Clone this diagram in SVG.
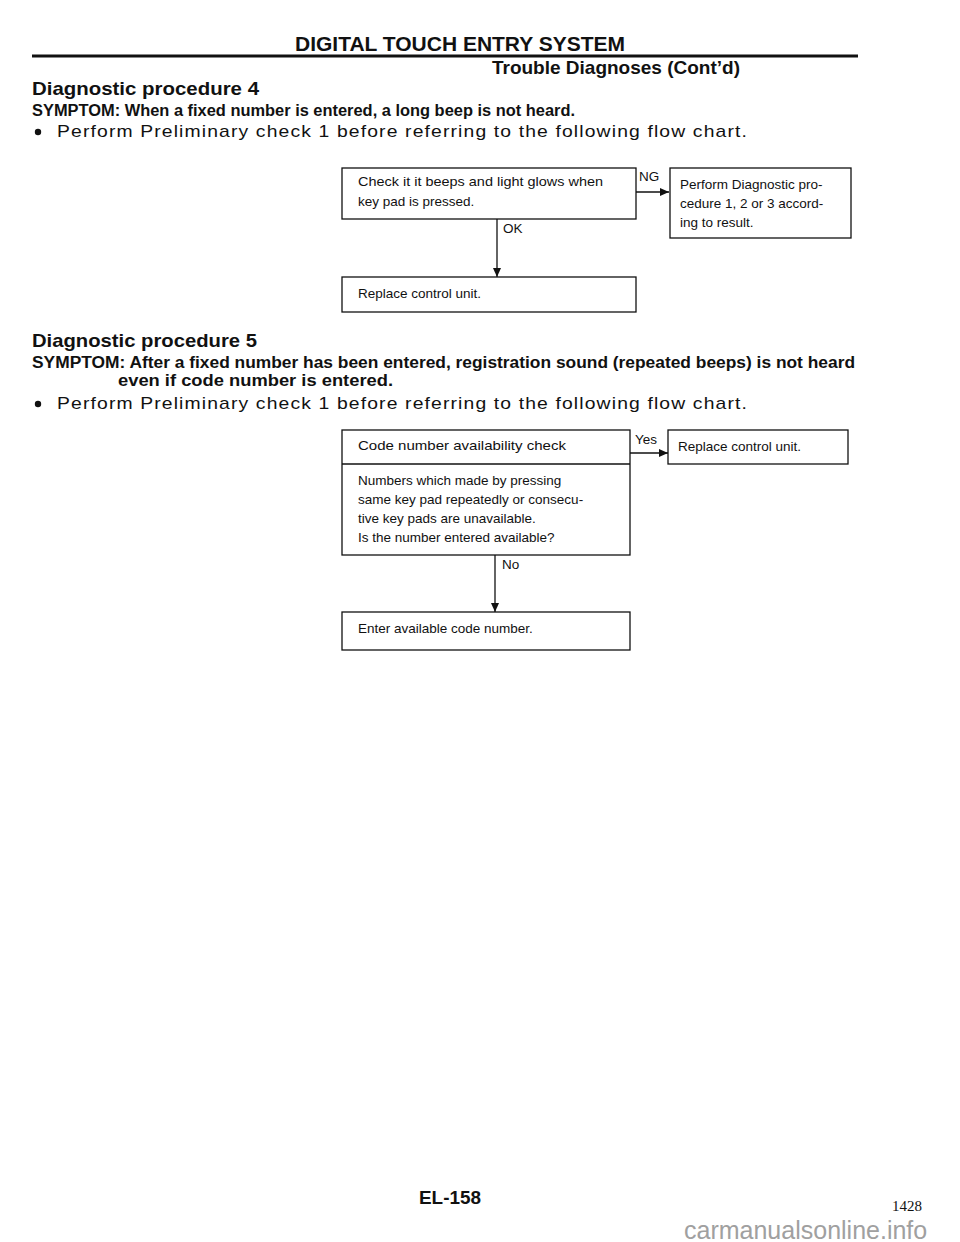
<svg xmlns="http://www.w3.org/2000/svg" width="960" height="1242" viewBox="0 0 960 1242">
<style>
text{font-family:"Liberation Sans",Arial,sans-serif;fill:#111}
.b{font-weight:bold}
.box{fill:#fff;stroke:#111;stroke-width:1.3}
.t{font-size:13.5px}
.lbl{font-size:13.5px}
.con{stroke:#111;stroke-width:1.3;fill:none}
.head{font-size:19px;font-weight:bold}
.sym{font-size:16.8px;font-weight:bold}
.body{font-size:17px;letter-spacing:1px}
</style>
<defs>
<marker id="ah" markerUnits="userSpaceOnUse" markerWidth="10" markerHeight="8" refX="9" refY="4" orient="auto">
<path d="M0,0 L9,4 L0,8 Z" fill="#111"/>
</marker>
</defs>
<rect width="960" height="1242" fill="#fff"/>

<g id="header">
<text x="460" y="51" class="b" font-size="20" text-anchor="middle" textLength="330" lengthAdjust="spacingAndGlyphs">DIGITAL TOUCH ENTRY SYSTEM</text>
<line x1="32" y1="56" x2="858" y2="56" stroke="#111" stroke-width="3"/>
<text x="740" y="74" class="b" font-size="19" text-anchor="end">Trouble Diagnoses (Cont’d)</text>
</g>

<g id="proc4-text">
<text x="32" y="95" class="head" textLength="227" lengthAdjust="spacingAndGlyphs">Diagnostic procedure 4</text>
<text x="32" y="116" class="sym" textLength="543" lengthAdjust="spacingAndGlyphs">SYMPTOM: When a fixed number is entered, a long beep is not heard.</text>
<circle cx="38" cy="132" r="3.2" fill="#111"/>
<text x="57" y="137" class="body" textLength="691" lengthAdjust="spacingAndGlyphs">Perform Preliminary check 1 before referring to the following flow chart.</text>
</g>

<g id="connectors">
<line class="con" x1="636" y1="192" x2="669" y2="192" marker-end="url(#ah)"/>
<text x="639" y="181" class="lbl">NG</text>
<line class="con" x1="497" y1="219" x2="497" y2="277" marker-end="url(#ah)"/>
<text x="503" y="233" class="lbl">OK</text>
<line class="con" x1="630" y1="453" x2="668" y2="453" marker-end="url(#ah)"/>
<text x="635" y="444" class="lbl">Yes</text>
<line class="con" x1="495" y1="555" x2="495" y2="612" marker-end="url(#ah)"/>
<text x="502" y="569" class="lbl">No</text>
</g>

<g id="node-check-beeps">
<rect class="box" x="342" y="168" width="294" height="51"/>
<text x="358" y="186" class="t" textLength="245" lengthAdjust="spacingAndGlyphs">Check it it beeps and light glows when</text>
<text x="358" y="206" class="t">key pad is pressed.</text>
</g>
<g id="node-perform-diag">
<rect class="box" x="670" y="168" width="181" height="70"/>
<text x="680" y="189" class="t">Perform Diagnostic pro-</text>
<text x="680" y="208" class="t">cedure 1, 2 or 3 accord-</text>
<text x="680" y="227" class="t">ing to result.</text>
</g>
<g id="node-replace-1">
<rect class="box" x="342" y="277" width="294" height="35"/>
<text x="358" y="298" class="t">Replace control unit.</text>
</g>

<g id="proc5-text">
<text x="32" y="347" class="head" textLength="225" lengthAdjust="spacingAndGlyphs">Diagnostic procedure 5</text>
<text x="32" y="368" class="sym" textLength="823" lengthAdjust="spacingAndGlyphs">SYMPTOM: After a fixed number has been entered, registration sound (repeated beeps) is not heard</text>
<text x="118" y="386" class="sym" textLength="275" lengthAdjust="spacingAndGlyphs">even if code number is entered.</text>
<circle cx="38" cy="404" r="3.2" fill="#111"/>
<text x="57" y="409" class="body" textLength="691" lengthAdjust="spacingAndGlyphs">Perform Preliminary check 1 before referring to the following flow chart.</text>
</g>

<g id="node-code-check">
<rect class="box" x="342" y="430" width="288" height="125"/>
<line x1="342" y1="464" x2="630" y2="464" stroke="#111" stroke-width="1.3"/>
<text x="358" y="450" class="t" textLength="208" lengthAdjust="spacingAndGlyphs">Code number availability check</text>
<text x="358" y="485" class="t">Numbers which made by pressing</text>
<text x="358" y="504" class="t">same key pad repeatedly or consecu-</text>
<text x="358" y="523" class="t">tive key pads are unavailable.</text>
<text x="358" y="542" class="t">Is the number entered available?</text>
</g>
<g id="node-replace-2">
<rect class="box" x="668" y="430" width="180" height="34"/>
<text x="678" y="451" class="t">Replace control unit.</text>
</g>
<g id="node-enter-code">
<rect class="box" x="342" y="612" width="288" height="38"/>
<text x="358" y="633" class="t">Enter available code number.</text>
</g>

<g id="footer">
<text x="450" y="1204" class="b" font-size="18" text-anchor="middle" textLength="62" lengthAdjust="spacingAndGlyphs">EL-158</text>
<text x="892" y="1211" font-size="15" style="font-family:'Liberation Serif','Times New Roman',serif">1428</text>
<text x="684" y="1239" font-size="25" style="fill:#a0a0a0">carmanualsonline.info</text>
</g>
</svg>
